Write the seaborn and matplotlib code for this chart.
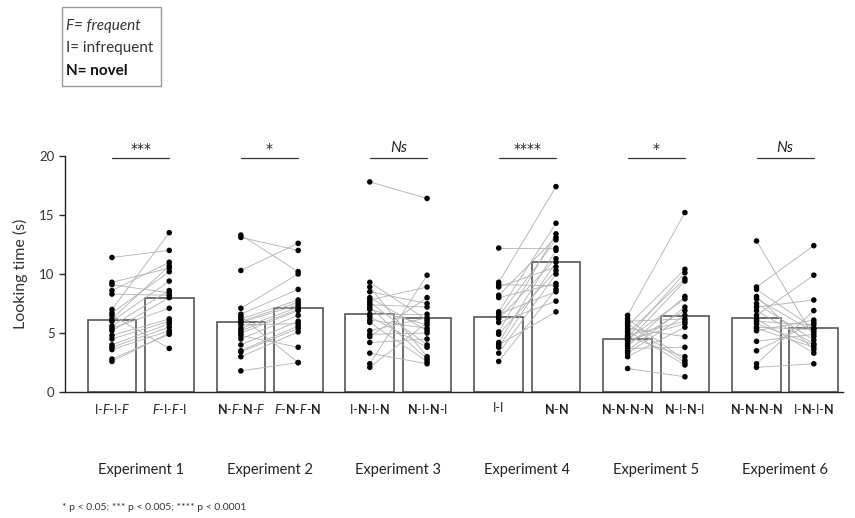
import matplotlib
matplotlib.use('Agg')
import matplotlib.pyplot as plt
from matplotlib.patches import Rectangle
import numpy as np
import pandas as pd
import seaborn as sns

# bar heights (group means)
bar_means = [6.1, 7.97, 5.96, 7.1, 6.6, 6.3, 6.38, 11.04, 4.49, 6.44, 6.3, 5.4]

# per-subject looking times, first and second condition of each experiment (paired by index)
exp1_a = [11.4, 9.3, 9.1, 8.6, 8.3, 7.0, 6.7, 6.5, 6.2, 6.0, 5.6, 5.4, 5.2, 4.8, 4.5, 4.0, 3.8, 3.6, 2.8, 2.6]
exp1_b = [12.0, 10.5, 8.4, 11.0, 8.2, 13.5, 10.2, 3.7, 10.7, 9.4, 8.6, 7.1, 8.0, 6.2, 6.0, 5.8, 5.5, 5.2, 4.9, 5.0]

exp2_a = [13.3, 13.1, 10.3, 7.1, 6.6, 6.4, 6.2, 6.0, 5.9, 5.7, 5.4, 5.2, 5.0, 4.8, 4.5, 4.0, 3.5, 3.4, 3.0, 1.8]
exp2_b = [10.2, 12.0, 12.6, 10.0, 8.7, 2.5, 7.8, 7.6, 7.4, 5.8, 7.2, 7.0, 6.9, 3.8, 6.5, 6.0, 5.6, 5.4, 5.1, 2.5]

exp3_a = [17.8, 9.3, 8.9, 8.5, 8.0, 7.8, 7.6, 7.4, 7.2, 7.0, 6.6, 6.4, 6.1, 5.9, 5.2, 4.9, 4.7, 4.2, 3.3, 2.4, 2.1]
exp3_b = [16.4, 6.1, 3.0, 7.5, 5.2, 8.9, 4.0, 7.2, 2.8, 5.7, 6.6, 3.8, 5.4, 2.6, 6.3, 5.0, 8.0, 4.5, 2.4, 9.9, 5.9]

exp4_a = [12.2, 9.3, 9.1, 8.9, 8.2, 8.0, 6.8, 6.6, 6.4, 6.2, 5.9, 5.1, 4.9, 4.2, 4.0, 3.8, 3.3, 2.6]
exp4_b = [12.2, 17.4, 9.0, 10.6, 13.1, 9.2, 14.3, 8.5, 12.9, 11.3, 7.7, 13.4, 10.3, 12.0, 6.8, 11.0, 10.0, 8.7]

exp5_a = [6.5, 6.2, 6.0, 5.8, 5.6, 5.4, 5.2, 5.0, 4.8, 4.7, 4.6, 4.5, 4.4, 4.3, 4.1, 3.9, 3.7, 3.5, 3.3, 3.0, 2.0]
exp5_b = [15.2, 2.7, 6.2, 2.5, 10.4, 4.7, 2.3, 9.6, 6.0, 3.0, 10.1, 7.9, 5.8, 9.4, 6.9, 8.1, 3.8, 7.2, 6.5, 5.5, 1.3]

exp6_a = [12.8, 8.9, 8.7, 8.1, 7.9, 7.5, 7.2, 6.9, 6.5, 6.2, 6.0, 5.8, 5.5, 5.4, 5.2, 4.3, 3.5, 2.4, 2.1]
exp6_b = [4.7, 12.4, 5.4, 3.6, 5.1, 4.4, 7.8, 4.1, 9.9, 3.3, 5.7, 4.0, 5.3, 3.8, 6.1, 4.9, 5.9, 6.9, 2.4]

exp_names = ['Experiment 1', 'Experiment 2', 'Experiment 3',
             'Experiment 4', 'Experiment 5', 'Experiment 6']
cond_labels = [r'I-$\mathit{F}$-I-$\mathit{F}$', r'$\mathit{F}$-I-$\mathit{F}$-I',
               r'$\mathbf{N}$-$\mathit{F}$-$\mathbf{N}$-$\mathit{F}$', r'$\mathit{F}$-$\mathbf{N}$-$\mathit{F}$-$\mathbf{N}$',
               r'I-$\mathbf{N}$-I-$\mathbf{N}$', r'$\mathbf{N}$-I-$\mathbf{N}$-I',
               'I-I', r'$\mathbf{N}$-$\mathbf{N}$',
               r'$\mathbf{N}$-$\mathbf{N}$-$\mathbf{N}$-$\mathbf{N}$', r'$\mathbf{N}$-I-$\mathbf{N}$-I',
               r'$\mathbf{N}$-$\mathbf{N}$-$\mathbf{N}$-$\mathbf{N}$', r'I-$\mathbf{N}$-I-$\mathbf{N}$']
sig_labels = ['***', '*', 'Ns', '****', '*', 'Ns']

pairs = [(exp1_a, exp1_b), (exp2_a, exp2_b), (exp3_a, exp3_b),
         (exp4_a, exp4_b), (exp5_a, exp5_b), (exp6_a, exp6_b)]

# x positions: two bars per experiment, a gap between experiments
gap = 2.25
pos = []
for k in range(6):
    pos += [k * gap, k * gap + 1]

rows = []
for k, (a, b) in enumerate(pairs):
    for i, (va, vb) in enumerate(zip(a, b)):
        sid = k * 100 + i
        rows.append({'sid': sid, 'x': pos[2 * k], 'value': va})
        rows.append({'sid': sid, 'x': pos[2 * k + 1], 'value': vb})
df = pd.DataFrame(rows)

sns.set_style('ticks')
plt.rcParams['font.family'] = ['Lato', 'DejaVu Sans']
plt.rcParams['mathtext.fontset'] = 'custom'
plt.rcParams['mathtext.rm'] = 'Lato'
plt.rcParams['mathtext.it'] = 'Lato:italic'
plt.rcParams['mathtext.bf'] = 'Lato:bold'

fig = plt.figure(figsize=(8.55, 5.18), dpi=100)
ax = fig.add_axes([0.076, 0.243, 0.91, 0.456])

sns.barplot(x=pos, y=bar_means, native_scale=True, width=0.85, color='white',
            edgecolor='#555555', linewidth=1.2, ax=ax, zorder=1)
for p in ax.patches:
    p.set_facecolor('white')

sns.lineplot(data=df, x='x', y='value', units='sid', estimator=None,
             color='#b0b0b0', linewidth=0.6, ax=ax, zorder=2, legend=False)
sns.scatterplot(data=df, x='x', y='value', color='black', s=16,
                edgecolor='none', ax=ax, zorder=3, legend=False)

ax.set_xlim(-0.82, 12.76)
ax.set_ylim(0, 20)
ax.set_yticks([0, 5, 10, 15, 20])
ax.set_xticks(pos)
ax.set_xticklabels(cond_labels, fontsize=9, color='#222222')
ax.tick_params(axis='x', length=0, pad=7)
ax.tick_params(axis='y', length=4, width=1, labelsize=9.5, labelcolor='#333333')
ax.set_xlabel('')
ax.set_ylabel('Looking time (s)', fontsize=11.5, color='#333333', labelpad=8)
sns.despine(ax=ax)
for s in ['left', 'bottom']:
    ax.spines[s].set_linewidth(1.0)
    ax.spines[s].set_color('#222222')

xt = ax.get_xaxis_transform()
for k in range(6):
    x0, x1 = pos[2 * k], pos[2 * k + 1]
    ax.plot([x0, x1], [19.8, 19.8], color='#333333', lw=0.9, clip_on=False)
    if sig_labels[k] == 'Ns':
        ax.text((x0 + x1) / 2, 20.1, 'Ns', ha='center', va='bottom',
                fontsize=11, style='italic', color='#222222', clip_on=False)
    else:
        ax.text((x0 + x1) / 2, 20.0, sig_labels[k], ha='center', va='bottom',
                fontsize=10, family='DejaVu Sans', color='#222222', clip_on=False)
    ax.text((x0 + x1) / 2, -0.33, exp_names[k], transform=xt, ha='center',
            va='center', fontsize=10.5, color='#222222')

# key box
fig.patches.append(Rectangle((62 / 855, 1 - 86 / 518), 99 / 855, 79 / 518,
                             transform=fig.transFigure, fill=False,
                             edgecolor='#999999', lw=1))
fig.text(66 / 855, 1 - 26 / 518, 'F= frequent', style='italic', fontsize=11,
         va='center', color='#333333')
fig.text(66 / 855, 1 - 48 / 518, 'I= infrequent', fontsize=11, va='center',
         color='#333333')
fig.text(66 / 855, 1 - 71 / 518, 'N= novel', fontweight='bold', fontsize=11,
         va='center', color='#111111')

fig.text(62 / 855, 1 - 508 / 518, '* p < 0.05; *** p < 0.005; **** p < 0.0001',
         fontsize=7.5, va='center', color='#333333')

fig.savefig('out.png', dpi=100)
